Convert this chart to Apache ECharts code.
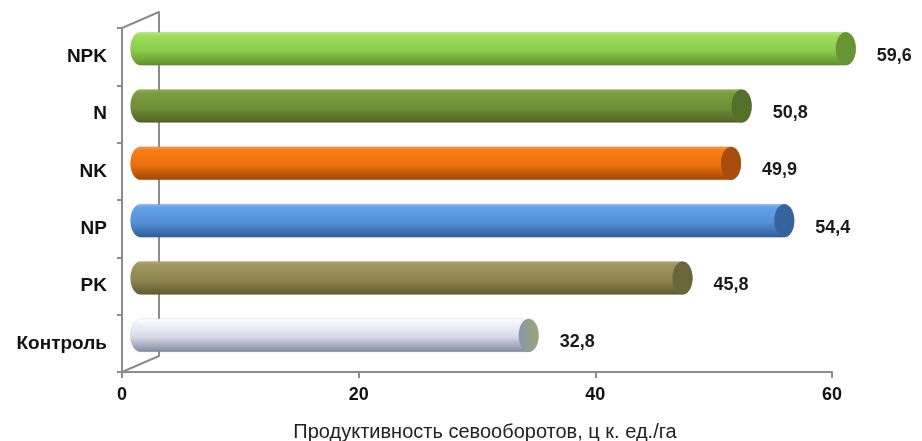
<!DOCTYPE html>
<html><head><meta charset="utf-8">
<script src="https://cdn.jsdelivr.net/npm/echarts@6/dist/echarts.min.js"></script>
<style>html,body{margin:0;padding:0;background:#fff}#c{width:922px;height:441px}</style>
</head><body><div id="c"></div>
<script>
var categories = ['Контроль', 'PK', 'NP', 'NK', 'N', 'NPK'];
var values = [32.8, 45.8, 54.4, 49.9, 50.8, 59.6];
var xTicks = [0, 20, 40, 60];
var axisTitle = 'Продуктивность севооборотов, ц к. ед./га';

// cylinder colour schemes [top, upper, mid, bottom, capA, capB]
var palettes = [
  ['#ffffff', '#f4f5fb', '#d6d9e6', '#7f859e', '#8a93b3', '#9aa870'],
  ['#b2a97a', '#a0975f', '#8f8550', '#5f5830', '#6a653a', '#6a653a'],
  ['#8bb8f2', '#62a0ea', '#5690d8', '#2f5c9c', '#36649f', '#36649f'],
  ['#fb9a48', '#f87d16', '#ec700c', '#9e4606', '#a84e0c', '#a84e0c'],
  ['#93b457', '#7d9c40', '#718e37', '#4c6324', '#53702b', '#53702b'],
  ['#b6ec82', '#9edd5e', '#8ccc4a', '#5f8f2e', '#679536', '#679536']
];

var L = 122, R = 90, T = 28, B = 69;   // front grid
var DX = 37, DY = 16;                  // 3D depth
var RX = 10, RY = 16.5;
var FONT = '"Liberation Sans", Arial, sans-serif';

function ellipsePts(cx, cy, a0, a1, n) {
  var pts = [];
  for (var i = 0; i <= n; i++) {
    var t = a0 + (a1 - a0) * i / n;
    pts.push([cx + RX * Math.cos(t), cy + RY * Math.sin(t)]);
  }
  return pts;
}

function renderItem(params, api) {
  var idx = params.dataIndex;
  var p0 = api.coord([0, api.value(1)]);
  var p1 = api.coord([api.value(0), api.value(1)]);
  var cy = p0[1] - DY / 2;
  var xs = p0[0] + DX / 2, xe = p1[0] + DX / 2;
  var pal = palettes[idx];
  var body = [];
  body = body.concat(ellipsePts(xe, cy, -Math.PI / 2, Math.PI / 2, 24));
  body = body.concat(ellipsePts(xs, cy, Math.PI / 2, Math.PI * 1.5, 24));
  var grad = new echarts.graphic.LinearGradient(0, 0, 0, 1, [
    {offset: 0, color: pal[0]}, {offset: 0.12, color: pal[1]},
    {offset: 0.55, color: pal[2]}, {offset: 1, color: pal[3]}
  ]);
  var capGrad = new echarts.graphic.LinearGradient(0, 0, 1, 0, [
    {offset: 0, color: pal[4]}, {offset: 1, color: pal[5]}
  ]);
  var cap = ellipsePts(xe, cy, 0, Math.PI * 2, 48);
  var lbl = String(api.value(0)).replace('.', ',');
  return {
    type: 'group',
    children: [
      {type: 'polygon', shape: {points: body}, style: {fill: grad, stroke: 'rgba(0,0,0,0.08)', lineWidth: 1}},
      {type: 'polygon', shape: {points: cap}, style: {fill: capGrad}},
      {type: 'text', style: {text: lbl, x: xe + RX + 21, y: p0[1] - 1,
        textVerticalAlign: 'middle', verticalAlign: 'middle', textAlign: 'left', align: 'left',
        font: 'bold 18px ' + FONT, fill: '#1a1a1a'}}
    ]
  };
}

var chart = echarts.init(document.getElementById('c'), null, {renderer: 'canvas'});
var axisColor = '#8c8c8c';
chart.setOption({
  animation: false,
  backgroundColor: '#ffffff',
  grid: [
    {left: L, right: R, top: T, bottom: B, containLabel: false, outerBoundsMode: 'none'},
    {left: L + DX, right: R - DX, top: T - DY, bottom: B + DY, containLabel: false, outerBoundsMode: 'none'}
  ],
  xAxis: [
    {type: 'value', gridIndex: 0, min: xTicks[0], max: xTicks[xTicks.length - 1], interval: xTicks[1] - xTicks[0],
      axisLine: {show: true, lineStyle: {color: axisColor, width: 2}},
      axisTick: {show: true, length: 6, lineStyle: {color: axisColor, width: 2}},
      splitLine: {show: false},
      axisLabel: {margin: 14, color: '#111', fontSize: 18, fontWeight: 'bold', fontFamily: FONT},
      name: axisTitle, nameLocation: 'middle', nameGap: 50,
      nameTextStyle: {color: '#222', fontSize: 20, fontFamily: FONT, padding: [0, 0, 0, 16]}
    },
    {type: 'value', gridIndex: 1, min: 0, max: 60, show: false}
  ],
  yAxis: [
    {type: 'category', gridIndex: 0, data: categories,
      axisLine: {show: true, lineStyle: {color: axisColor, width: 2}},
      axisTick: {show: true, length: 5, lineStyle: {color: axisColor, width: 2}},
      axisLabel: {margin: 15, color: '#111', fontSize: 19, fontWeight: 'bold', fontFamily: FONT}
    },
    {type: 'category', gridIndex: 1, data: categories,
      axisLine: {show: true, lineStyle: {color: axisColor, width: 2}},
      axisTick: {show: false}, axisLabel: {show: false}, splitLine: {show: false}
    }
  ],
  graphic: [
    {type: 'line', shape: {x1: L, y1: T, x2: L + DX, y2: T - DY}, style: {stroke: axisColor, lineWidth: 2}, z: 1},
    {type: 'line', shape: {x1: L, y1: 441 - B, x2: L + DX, y2: 441 - B - DY}, style: {stroke: axisColor, lineWidth: 2}, z: 1}
  ],
  series: [{
    type: 'custom', xAxisIndex: 0, yAxisIndex: 0, renderItem: renderItem, clip: false, z: 5,
    data: values.map(function (v, i) { return [v, i]; })
  }]
});
</script></body></html>
